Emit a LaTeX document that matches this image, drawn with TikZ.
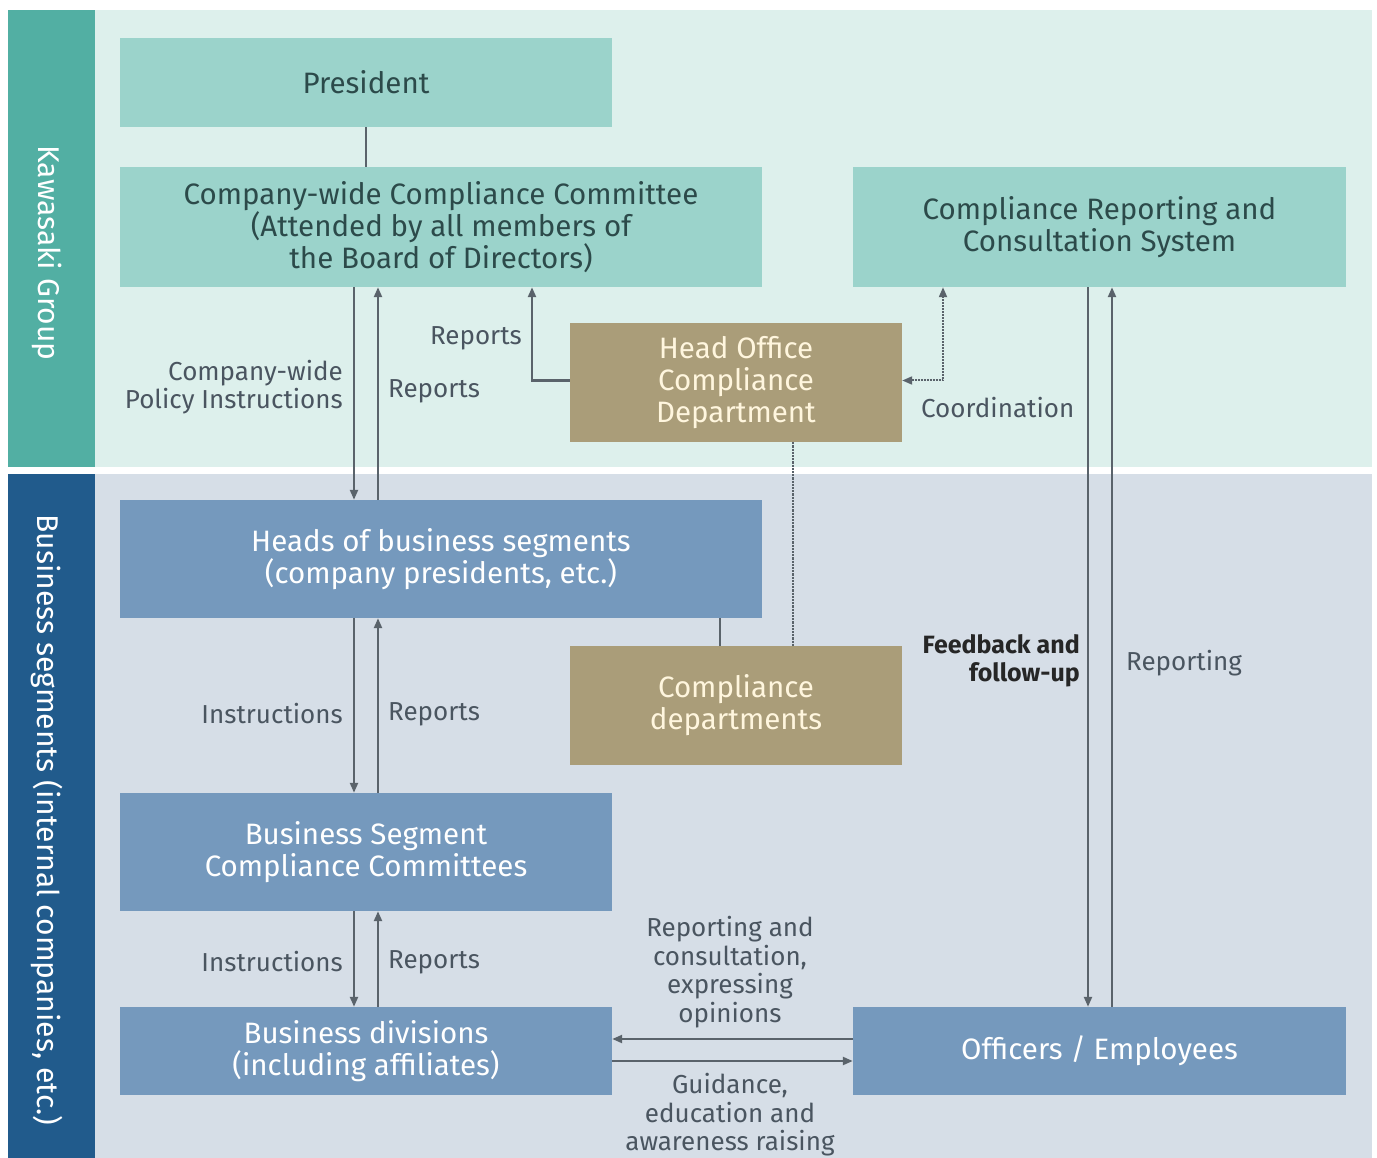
\documentclass[tikz,border=0pt]{standalone}
\usepackage{fontspec}
\setmainfont{Fira Sans}
\usetikzlibrary{arrows.meta,positioning}
\definecolor{topbg}{HTML}{DDF0EC}
\definecolor{topstrip}{HTML}{52AFA3}
\definecolor{tealbox}{HTML}{9BD3CB}
\definecolor{tealtext}{HTML}{2C4A4A}
\definecolor{botbg}{HTML}{D6DEE7}
\definecolor{botstrip}{HTML}{215B8C}
\definecolor{bluebox}{HTML}{7599BD}
\definecolor{tanbox}{HTML}{AA9D79}
\definecolor{tantext}{HTML}{FFF6DE}
\definecolor{linec}{HTML}{5A636B}
\definecolor{labc}{HTML}{4A5560}
\tikzset{
  box/.style={rectangle, inner sep=0pt, align=center, font=\fontsize{29.5}{32}\selectfont},
  tbox/.style={box, fill=tealbox, text=tealtext},
  bbox/.style={box, fill=bluebox, text=white},
  nbox/.style={box, fill=tanbox, text=tantext},
  arr/.style={draw=linec, line width=2.2pt, -{Triangle[length=10pt,width=8pt]}},
  ln/.style={draw=linec, line width=2.2pt},
  dotarr/.style={draw=linec, line width=2pt, densely dotted, {Triangle[length=10pt,width=8pt]}-{Triangle[length=10pt,width=8pt]}},
  lab/.style={inner sep=0pt, text=labc, font=\fontsize{26}{28.5}\selectfont},
  side/.style={inner sep=0pt, text=white, rotate=-90, font=\fontsize{30}{34}\selectfont},
}
\begin{document}
\begin{tikzpicture}[x=1pt,y=-1pt]
\useasboundingbox (0,0) rectangle (1377,1158);
\fill[white] (0,0) rectangle (1377,1158);
% bands
\fill[topbg] (95,10) rectangle (1372,467);
\fill[topstrip] (8,10) rectangle (95,467);
\fill[botbg] (95,474) rectangle (1372,1158);
\fill[botstrip] (8,474) rectangle (95,1158);
\node[side] (sg1) at (47,253) {Kawasaki Group};
\node[side] (sg2) at (47,820) {Business segments (internal companies, etc.)};
% boxes
\node[tbox, minimum width=492, minimum height=89] (pres) at (366,82.5) {President};
\node[tbox, minimum width=642, minimum height=120] (cwcc) at (441,227) {Company-wide Compliance Committee\\(Attended by all members of\\the Board of Directors)};
\node[tbox, minimum width=493, minimum height=120] (crs) at (1099.5,227) {Compliance Reporting and\\Consultation System};
\node[nbox, minimum width=332, minimum height=119] (hocd) at (736,382.5) {Head Office\\Compliance\\Department};
\node[bbox, minimum width=642, minimum height=118] (heads) at (441,559) {Heads of business segments\\(company presidents, etc.)};
\node[nbox, minimum width=332, minimum height=119] (cdep) at (736,705.5) {Compliance\\departments};
\node[bbox, minimum width=492, minimum height=118] (bscc) at (366,852) {Business Segment\\Compliance Committees};
\node[bbox, minimum width=492, minimum height=88] (bdiv) at (366,1051) {Business divisions\\(including affiliates)};
\node[bbox, minimum width=493, minimum height=88] (off) at (1099.5,1051) {Officers / Employees};
% connectors
\draw[ln] (pres.south) -- ([xshift=-75pt]cwcc.north);
\draw[arr] ([xshift=-87pt]cwcc.south) -- ([xshift=-87pt]heads.north);
\draw[arr] ([xshift=-63pt]heads.north) -- ([xshift=-63pt]cwcc.south);
\draw[arr] ([yshift=2pt]hocd.west) -| ([xshift=91pt]cwcc.south);
\draw[dotarr] ([yshift=2pt]hocd.east) -| ([xshift=-156.5pt]crs.south);
\draw[ln, densely dotted] ([xshift=57pt]hocd.south) -- ([xshift=57pt]cdep.north);
\draw[ln] ([xshift=279pt]heads.south) -- ([xshift=-16pt]cdep.north);
\draw[arr] ([xshift=-87pt]heads.south) -- ([xshift=-12pt]bscc.north);
\draw[arr] ([xshift=12pt]bscc.north) -- ([xshift=-63pt]heads.south);
\draw[arr] ([xshift=-12pt]bscc.south) -- ([xshift=-12pt]bdiv.north);
\draw[arr] ([xshift=12pt]bdiv.north) -- ([xshift=12pt]bscc.south);
\draw[arr] ([xshift=-11.5pt]crs.south) -- ([xshift=-11.5pt]off.north);
\draw[arr] ([xshift=12.5pt]off.north) -- ([xshift=12.5pt]crs.south);
\draw[arr] ([yshift=12pt]off.west) -- ([yshift=12pt]bdiv.east);
\draw[arr] ([yshift=-10pt]bdiv.east) -- ([yshift=-10pt]off.west);
% labels
\node[lab, anchor=east, align=right] (l1) at (343,387) {Company-wide\\Policy Instructions};
\node[lab, anchor=west] (l2) at (388,391) {Reports};
\node[lab, anchor=east] (l3) at (522,338) {Reports};
\node[lab, anchor=west] (l4) at (921,408) {Coordination};
\node[lab, anchor=east, align=right, text=black!85, font=\fontsize{25}{28.5}\selectfont\bfseries] (l5) at (1080,661) {Feedback and\\follow-up};
\node[lab, anchor=west] (l6) at (1126,663) {Reporting};
\node[lab, anchor=east] (l7) at (343,714) {Instructions};
\node[lab, anchor=west] (l8) at (388,714) {Reports};
\node[lab, anchor=east] (l9) at (343,962) {Instructions};
\node[lab, anchor=west] (l10) at (388,962) {Reports};
\node[lab, align=center] (l11) at (730,972) {Reporting and\\consultation,\\expressing\\opinions};
\node[lab, align=center] (l12) at (730,1115) {Guidance,\\education and\\awareness raising};
\end{tikzpicture}
\end{document}
